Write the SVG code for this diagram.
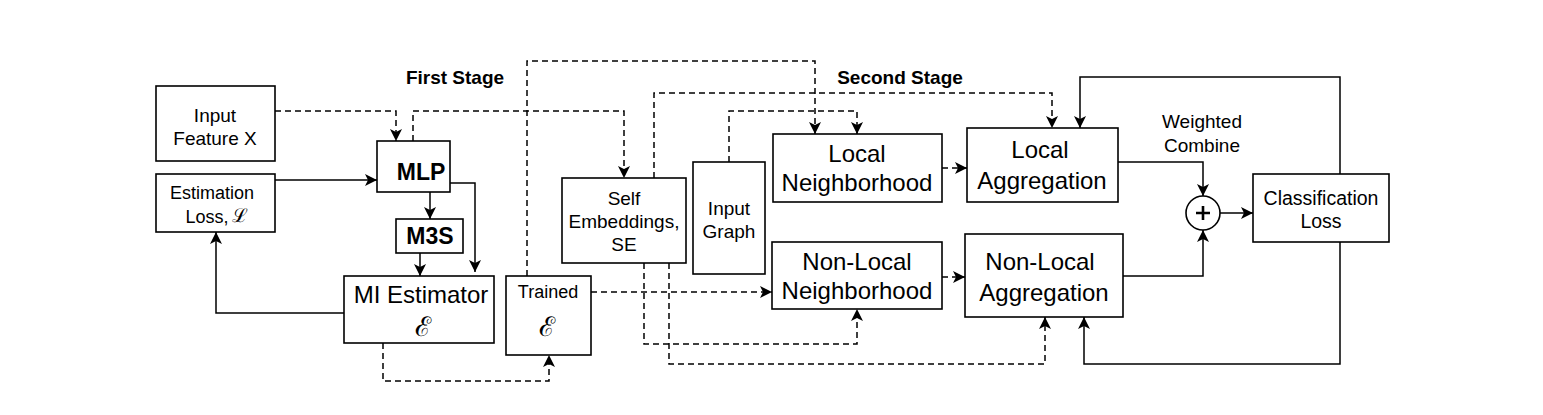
<svg xmlns="http://www.w3.org/2000/svg" width="1543" height="415" viewBox="0 0 1543 415">
<style>
.box{fill:#fff;stroke:#000;stroke-width:1.6}
.t{font-family:"Liberation Sans",Arial,sans-serif;fill:#000;text-anchor:middle}
.b{font-weight:bold}
.c{fill:none;stroke:#000;stroke-width:1.5}
.d{stroke-dasharray:6 4}
.m{font-family:"DejaVu Serif","Liberation Serif",serif;text-anchor:middle}
</style>
<defs>
<marker id="a" markerWidth="14" markerHeight="12" refX="12" refY="6" orient="auto" markerUnits="userSpaceOnUse">
<path d="M0,0 L12,6 L0,12 L3,6 z" fill="#000"/>
</marker>
</defs>
<rect width="1543" height="415" fill="#fff"/>
<text class="t b" x="455" y="84" font-size="19">First Stage</text>
<text class="t b" x="900" y="84" font-size="19">Second Stage</text>
<g id="connectors">
<path class="c d" d="M275,111 H396 V141" marker-end="url(#a)"/>
<path class="c d" d="M413,141 V111 H624 V178" marker-end="url(#a)"/>
<path class="c" d="M275,180 H377" marker-end="url(#a)"/>
<path class="c" d="M430,192 V219" marker-end="url(#a)"/>
<path class="c" d="M450,183 H475 V272" marker-end="url(#a)"/>
<path class="c" d="M420,253 V276" marker-end="url(#a)"/>
<path class="c" d="M344,313 H216 V232" marker-end="url(#a)"/>
<path class="c d" d="M383,343 V381 H549 V355" marker-end="url(#a)"/>
<path class="c d" d="M527,276 V61 H815 V134" marker-end="url(#a)"/>
<path class="c d" d="M654,178 V93 H1052 V128" marker-end="url(#a)"/>
<path class="c d" d="M729,162 V111 H857 V134" marker-end="url(#a)"/>
<path class="c d" d="M942,168 H967" marker-end="url(#a)"/>
<path class="c d" d="M591,292 H772" marker-end="url(#a)"/>
<path class="c d" d="M942,277 H965" marker-end="url(#a)"/>
<path class="c d" d="M644,263 V344 H857 V309" marker-end="url(#a)"/>
<path class="c d" d="M669,263 V364 H1045 V317" marker-end="url(#a)"/>
<path class="c" d="M1118,162 H1203 V196" marker-end="url(#a)"/>
<path class="c" d="M1123,276 H1203 V230" marker-end="url(#a)"/>
<path class="c" d="M1220,213 H1253" marker-end="url(#a)"/>
<path class="c" d="M1340,174 V77 H1080 V128" marker-end="url(#a)"/>
<path class="c" d="M1340,242 V364 H1084 V317" marker-end="url(#a)"/>
</g>
<g id="input-feature">
<rect class="box" x="156" y="86" width="119" height="75"/>
<text class="t" x="215" y="122" font-size="19">Input</text>
<text class="t" x="215" y="145" font-size="19">Feature X</text>
</g>
<g id="estimation-loss">
<rect class="box" x="156" y="174" width="119" height="58"/>
<text class="t" x="212" y="199" font-size="18">Estimation</text>
<text class="t" x="207" y="223" font-size="18">Loss,</text>
<text class="m" x="240" y="222" font-size="19">ℒ</text>
</g>
<g id="mlp">
<rect class="box" x="377" y="141" width="73" height="51"/>
<text class="t b" x="421" y="180" font-size="23">MLP</text>
</g>
<g id="m3s">
<rect class="box" x="396" y="219" width="67" height="34"/>
<text class="t b" x="430" y="244" font-size="23">M3S</text>
</g>
<g id="mi-estimator">
<rect class="box" x="344" y="276" width="150" height="67"/>
<text class="t" x="421" y="303" font-size="24">MI Estimator</text>
<text class="m" x="423" y="336" font-size="27">ℰ</text>
</g>
<g id="trained">
<rect class="box" x="506" y="276" width="85" height="79"/>
<text class="t" x="548" y="298" font-size="18">Trained</text>
<text class="m" x="547" y="336" font-size="27">ℰ</text>
</g>
<g id="self-embeddings">
<rect class="box" x="562" y="178" width="124" height="85"/>
<text class="t" x="624" y="205" font-size="19">Self</text>
<text class="t" x="624" y="228" font-size="19">Embeddings,</text>
<text class="t" x="624" y="251" font-size="19">SE</text>
</g>
<g id="input-graph">
<rect class="box" x="693" y="162" width="72" height="112"/>
<text class="t" x="729" y="215" font-size="19">Input</text>
<text class="t" x="729" y="238" font-size="19">Graph</text>
</g>
<g id="local-neighborhood">
<rect class="box" x="773" y="134" width="169" height="68"/>
<text class="t" x="857" y="162" font-size="24">Local</text>
<text class="t" x="857" y="191" font-size="24">Neighborhood</text>
</g>
<g id="local-aggregation">
<rect class="box" x="967" y="128" width="151" height="74"/>
<text class="t" x="1040" y="158" font-size="24">Local</text>
<text class="t" x="1042" y="189" font-size="24">Aggregation</text>
</g>
<g id="nonlocal-neighborhood">
<rect class="box" x="772" y="242" width="170" height="67"/>
<text class="t" x="857" y="270" font-size="24">Non-Local</text>
<text class="t" x="857" y="299" font-size="24">Neighborhood</text>
</g>
<g id="nonlocal-aggregation">
<rect class="box" x="965" y="234" width="158" height="83"/>
<text class="t" x="1040" y="270" font-size="24">Non-Local</text>
<text class="t" x="1044" y="301" font-size="24">Aggregation</text>
</g>
<g id="combine">
<circle cx="1203" cy="213" r="17" fill="#fff" stroke="#000" stroke-width="1.6"/>
<path d="M1196,213 H1210 M1203,206 V220" stroke="#000" stroke-width="2.6"/>
<text class="t" x="1202" y="128" font-size="19">Weighted</text>
<text class="t" x="1202" y="152" font-size="19">Combine</text>
</g>
<g id="classification-loss">
<rect class="box" x="1253" y="174" width="136" height="68"/>
<text class="t" x="1321" y="205" font-size="19.5">Classification</text>
<text class="t" x="1321" y="228" font-size="19.5">Loss</text>
</g>
</svg>
